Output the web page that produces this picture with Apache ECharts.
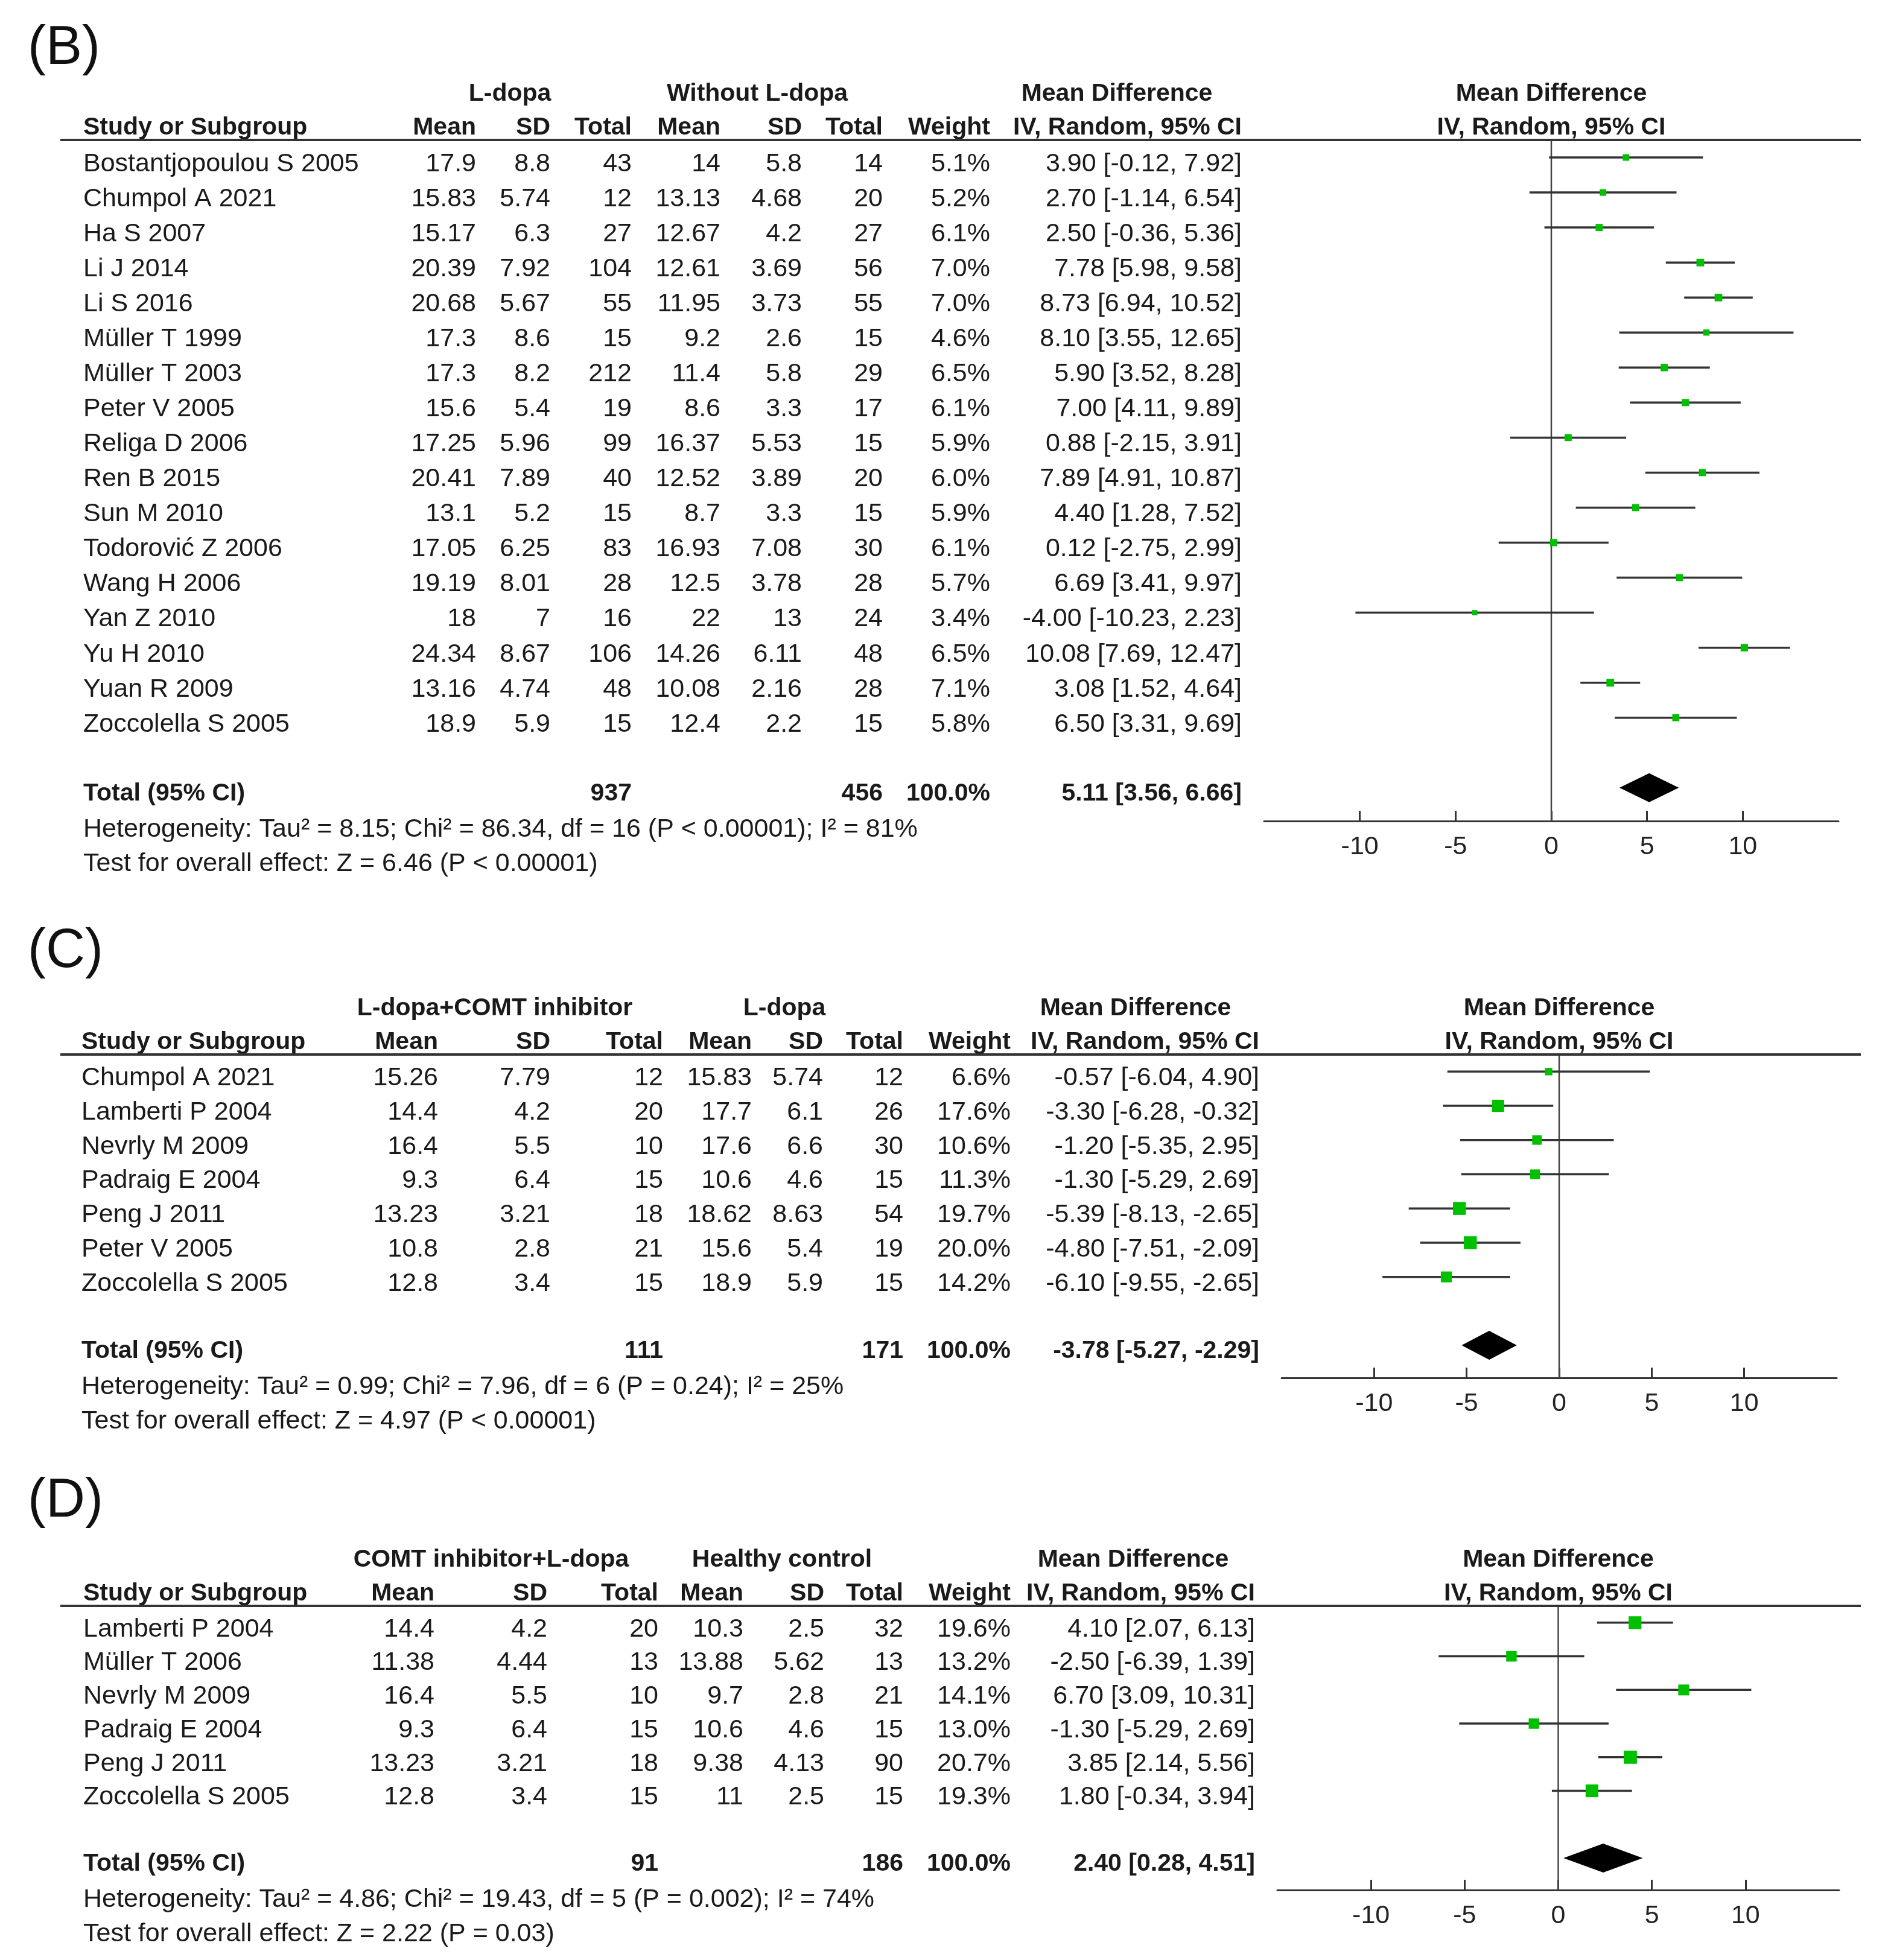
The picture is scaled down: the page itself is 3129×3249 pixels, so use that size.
<!DOCTYPE html>
<html>
<head>
<meta charset="utf-8">
<script src="https://cdn.jsdelivr.net/npm/echarts@6/dist/echarts.min.js"></script>
<style>
html,body{margin:0;padding:0;background:#ffffff;}
#c{width:3129px;height:3249px;}
</style>
</head>
<body>
<div id="c"></div>
<script>
// ---------------- DATA ----------------
// Panel B: L-dopa vs Without L-dopa
const studiesB = ['Bostantjopoulou S 2005','Chumpol A 2021','Ha S 2007','Li J 2014','Li S 2016','Müller T 1999','Müller T 2003','Peter V 2005','Religa D 2006','Ren B 2015','Sun M 2010','Todorović Z 2006','Wang H 2006','Yan Z 2010','Yu H 2010','Yuan R 2009','Zoccolella S 2005'];
const mean1B = [17.9,15.83,15.17,20.39,20.68,17.3,17.3,15.6,17.25,20.41,13.1,17.05,19.19,18,24.34,13.16,18.9];
const sd1B = [8.8,5.74,6.3,7.92,5.67,8.6,8.2,5.4,5.96,7.89,5.2,6.25,8.01,7,8.67,4.74,5.9];
const n1B = [43,12,27,104,55,15,212,19,99,40,15,83,28,16,106,48,15];
const mean2B = [14,13.13,12.67,12.61,11.95,9.2,11.4,8.6,16.37,12.52,8.7,16.93,12.5,22,14.26,10.08,12.4];
const sd2B = [5.8,4.68,4.2,3.69,3.73,2.6,5.8,3.3,5.53,3.89,3.3,7.08,3.78,13,6.11,2.16,2.2];
const n2B = [14,20,27,56,55,15,29,17,15,20,15,30,28,24,48,28,15];
const weightB = [5.1,5.2,6.1,7.0,7.0,4.6,6.5,6.1,5.9,6.0,5.9,6.1,5.7,3.4,6.5,7.1,5.8];
const mdB = [3.90,2.70,2.50,7.78,8.73,8.10,5.90,7.00,0.88,7.89,4.40,0.12,6.69,-4.00,10.08,3.08,6.50];
const lowB = [-0.12,-1.14,-0.36,5.98,6.94,3.55,3.52,4.11,-2.15,4.91,1.28,-2.75,3.41,-10.23,7.69,1.52,3.31];
const highB = [7.92,6.54,5.36,9.58,10.52,12.65,8.28,9.89,3.91,10.87,7.52,2.99,9.97,2.23,12.47,4.64,9.69];
const totalB = [937, 456, 5.11, 3.56, 6.66]; // n1, n2, md, low, high
const groupsB = ['L-dopa', 'Without L-dopa'];
const hetB = 'Heterogeneity: Tau² = 8.15; Chi² = 86.34, df = 16 (P < 0.00001); I² = 81%';
const testB = 'Test for overall effect: Z = 6.46 (P < 0.00001)';

// Panel C: L-dopa+COMT inhibitor vs L-dopa
const studiesC = ['Chumpol A 2021','Lamberti P 2004','Nevrly M 2009','Padraig E 2004','Peng J 2011','Peter V 2005','Zoccolella S 2005'];
const mean1C = [15.26,14.4,16.4,9.3,13.23,10.8,12.8];
const sd1C = [7.79,4.2,5.5,6.4,3.21,2.8,3.4];
const n1C = [12,20,10,15,18,21,15];
const mean2C = [15.83,17.7,17.6,10.6,18.62,15.6,18.9];
const sd2C = [5.74,6.1,6.6,4.6,8.63,5.4,5.9];
const n2C = [12,26,30,15,54,19,15];
const weightC = [6.6,17.6,10.6,11.3,19.7,20.0,14.2];
const mdC = [-0.57,-3.30,-1.20,-1.30,-5.39,-4.80,-6.10];
const lowC = [-6.04,-6.28,-5.35,-5.29,-8.13,-7.51,-9.55];
const highC = [4.90,-0.32,2.95,2.69,-2.65,-2.09,-2.65];
const totalC = [111, 171, -3.78, -5.27, -2.29];
const groupsC = ['L-dopa+COMT inhibitor', 'L-dopa'];
const hetC = 'Heterogeneity: Tau² = 0.99; Chi² = 7.96, df = 6 (P = 0.24); I² = 25%';
const testC = 'Test for overall effect: Z = 4.97 (P < 0.00001)';

// Panel D: COMT inhibitor+L-dopa vs Healthy control
const studiesD = ['Lamberti P 2004','Müller T 2006','Nevrly M 2009','Padraig E 2004','Peng J 2011','Zoccolella S 2005'];
const mean1D = [14.4,11.38,16.4,9.3,13.23,12.8];
const sd1D = [4.2,4.44,5.5,6.4,3.21,3.4];
const n1D = [20,13,10,15,18,15];
const mean2D = [10.3,13.88,9.7,10.6,9.38,11];
const sd2D = [2.5,5.62,2.8,4.6,4.13,2.5];
const n2D = [32,13,21,15,90,15];
const weightD = [19.6,13.2,14.1,13.0,20.7,19.3];
const mdD = [4.10,-2.50,6.70,-1.30,3.85,1.80];
const lowD = [2.07,-6.39,3.09,-5.29,2.14,-0.34];
const highD = [6.13,1.39,10.31,2.69,5.56,3.94];
const totalD = [91, 186, 2.40, 0.28, 4.51];
const groupsD = ['COMT inhibitor+L-dopa', 'Healthy control'];
const hetD = 'Heterogeneity: Tau² = 4.86; Chi² = 19.43, df = 5 (P = 0.002); I² = 74%';
const testD = 'Test for overall effect: Z = 2.22 (P = 0.03)';

const panelLabels = ['(B)', '(C)', '(D)'];
const tickValues = [-10, -5, 0, 5, 10];
const colHeaders = ['Mean', 'SD', 'Total', 'Mean', 'SD', 'Total', 'Weight', 'IV, Random, 95% CI'];

// ---------------- LAYOUT ----------------
const FONT = '"Liberation Sans", Arial, Helvetica, sans-serif';
const TXT = '#1a1a1a';
const layouts = [
  { label: {x: 46, y: 88}, grid: {left: 2095, top: 232, width: 952, height: 1129},
    cols: {name: 138, m1: 789, sd1: 912, t1: 1047, m2: 1194, sd2: 1329, t2: 1463, w: 1641, ci: 2058},
    g1: 845, g2: 1255, md: 1851 },
  { label: {x: 46, y: 1585}, grid: {left: 2124, top: 1748, width: 920, height: 536},
    cols: {name: 135, m1: 726, sd1: 912, t1: 1099, m2: 1246, sd2: 1364, t2: 1497, w: 1675, ci: 2087},
    g1: 820, g2: 1300, md: 1882 },
  { label: {x: 46, y: 2496}, grid: {left: 2117, top: 2662, width: 931, height: 471},
    cols: {name: 138, m1: 720, sd1: 907, t1: 1091, m2: 1232, sd2: 1366, t2: 1497, w: 1675, ci: 2080},
    g1: 814, g2: 1296, md: 1878 }
];

const panels = [
  {studies: studiesB, m1: mean1B, s1: sd1B, n1: n1B, m2: mean2B, s2: sd2B, n2: n2B, w: weightB, md: mdB, lo: lowB, hi: highB, tot: totalB, groups: groupsB, het: hetB, test: testB},
  {studies: studiesC, m1: mean1C, s1: sd1C, n1: n1C, m2: mean2C, s2: sd2C, n2: n2C, w: weightC, md: mdC, lo: lowC, hi: highC, tot: totalC, groups: groupsC, het: hetC, test: testC},
  {studies: studiesD, m1: mean1D, s1: sd1D, n1: n1D, m2: mean2D, s2: sd2D, n2: n2D, w: weightD, md: mdD, lo: lowD, hi: highD, tot: totalD, groups: groupsD, het: hetD, test: testD}
];

function ciText(md, lo, hi) { return md.toFixed(2) + ' [' + lo.toFixed(2) + ', ' + hi.toFixed(2) + ']'; }

// build text lines for each panel's table
panels.forEach(function (p, k) {
  const L = layouts[k], c = L.cols, n = p.studies.length;
  const lines = [];
  lines.push({row: -0.5, dy: -76, cells: [
    {t: p.groups[0], x: L.g1, a: 'center', b: true},
    {t: p.groups[1], x: L.g2, a: 'center', b: true},
    {t: 'Mean Difference', x: L.md, a: 'center', b: true},
    {t: 'Mean Difference', x: 'zero', a: 'center', b: true}
  ]});
  const hx = [c.m1, c.sd1, c.t1, c.m2, c.sd2, c.t2, c.w, c.ci];
  const h2 = [{t: 'Study or Subgroup', x: c.name, a: 'left', b: true}];
  colHeaders.forEach(function (h, j) { h2.push({t: h, x: hx[j], a: 'right', b: true}); });
  h2.push({t: 'IV, Random, 95% CI', x: 'zero', a: 'center', b: true});
  lines.push({row: -0.5, dy: -20, cells: h2});
  lines.push({row: -0.5, dy: 0, rule: true, cells: []});
  for (let i = 0; i < n; i++) {
    lines.push({row: i, dy: 11, cells: [
      {t: p.studies[i], x: c.name, a: 'left'},
      {t: String(p.m1[i]), x: c.m1, a: 'right'},
      {t: String(p.s1[i]), x: c.sd1, a: 'right'},
      {t: String(p.n1[i]), x: c.t1, a: 'right'},
      {t: String(p.m2[i]), x: c.m2, a: 'right'},
      {t: String(p.s2[i]), x: c.sd2, a: 'right'},
      {t: String(p.n2[i]), x: c.t2, a: 'right'},
      {t: p.w[i].toFixed(1) + '%', x: c.w, a: 'right'},
      {t: ciText(p.md[i], p.lo[i], p.hi[i]), x: c.ci, a: 'right'}
    ]});
  }
  lines.push({row: n + 1, dy: 10, cells: [
    {t: 'Total (95% CI)', x: c.name, a: 'left', b: true},
    {t: String(p.tot[0]), x: c.t1, a: 'right', b: true},
    {t: String(p.tot[1]), x: c.t2, a: 'right', b: true},
    {t: '100.0%', x: c.w, a: 'right', b: true},
    {t: ciText(p.tot[2], p.tot[3], p.tot[4]), x: c.ci, a: 'right', b: true}
  ]});
  lines.push({row: n + 1, dy: 69, cells: [{t: p.het, x: c.name, a: 'left'}]});
  lines.push({row: n + 1, dy: 126, cells: [{t: p.test, x: c.name, a: 'left'}]});
  p.lines = lines;
});

// ---------------- RENDERERS ----------------
function tableRender(k) {
  return function (params, api) {
    const line = panels[k].lines[params.dataIndex];
    const pt = api.coord([0, api.value(1)]);
    const y = pt[1] + line.dy;
    const children = [];
    if (line.rule) {
      children.push({type: 'line', shape: {x1: 100, y1: y, x2: 3084, y2: y},
        style: {stroke: '#333333', lineWidth: 4}});
    }
    line.cells.forEach(function (cell) {
      children.push({type: 'text', style: {
        text: cell.t, x: cell.x === 'zero' ? pt[0] : cell.x, y: y,
        align: cell.a, verticalAlign: 'middle',
        fontSize: cell.b ? 41 : 43, fontWeight: cell.b ? 'bold' : 'normal',
        fontFamily: FONT, fill: TXT
      }});
    });
    return {type: 'group', children: children};
  };
}

function ciRender(params, api) {
  const row = api.value(3);
  const a = api.coord([api.value(0), row]);
  const b = api.coord([api.value(1), row]);
  const m = api.coord([api.value(2), row]);
  const s = 4.8 * Math.sqrt(api.value(4));
  return {type: 'group', children: [
    {type: 'line', shape: {x1: a[0], y1: a[1], x2: b[0], y2: b[1]}, style: {stroke: '#333333', lineWidth: 3.5}},
    {type: 'rect', shape: {x: m[0] - s / 2, y: m[1] - s / 2, width: s, height: s}, style: {fill: '#00c000'}}
  ]};
}

function diamondRender(params, api) {
  const row = api.value(3);
  const a = api.coord([api.value(0), row]);
  const b = api.coord([api.value(1), row]);
  const m = api.coord([api.value(2), row]);
  const h = 24;
  return {type: 'polygon', shape: {points: [[a[0], a[1]], [m[0], m[1] - h], [b[0], b[1]], [m[0], m[1] + h]]},
    style: {fill: '#000000'}};
}

function zeroRender(params, api) {
  const t = api.coord([api.value(0), api.value(1)]);
  const b = api.coord([api.value(0), api.value(2)]);
  return {type: 'line', shape: {x1: t[0], y1: t[1], x2: b[0], y2: b[1]}, style: {stroke: '#444444', lineWidth: 2.5}};
}

// ---------------- OPTION ----------------
const grids = [], xAxes = [], yAxes = [], series = [], graphics = [];
panels.forEach(function (p, k) {
  const L = layouts[k], n = p.studies.length;
  const yMax = n + 1.95;
  grids.push({left: L.grid.left, top: L.grid.top, width: L.grid.width, height: L.grid.height});
  xAxes.push({
    gridIndex: k, type: 'value', min: -15, max: 15, interval: 5, position: 'bottom',
    axisLine: {show: true, onZero: false, lineStyle: {color: '#333333', width: 3}},
    axisTick: {show: true, inside: true, length: 17, customValues: tickValues, lineStyle: {color: '#333333', width: 3}},
    axisLabel: {show: true, customValues: tickValues, fontSize: 43, fontFamily: FONT, color: '#222222', margin: 22},
    splitLine: {show: false}
  });
  yAxes.push({gridIndex: k, type: 'value', inverse: true, min: -0.5, max: yMax, show: false, splitLine: {show: false}});
  series.push({type: 'custom', name: 'zero' + k, xAxisIndex: k, yAxisIndex: k, clip: false, z: 1,
    renderItem: zeroRender, data: [[0, -0.5, yMax]], encode: {x: 0, y: [1, 2]}, silent: true});
  series.push({type: 'custom', name: 'ci' + k, xAxisIndex: k, yAxisIndex: k, clip: false, z: 3,
    renderItem: ciRender,
    data: p.studies.map(function (s, i) { return [p.lo[i], p.hi[i], p.md[i], i, p.w[i]]; }),
    encode: {x: [0, 1, 2], y: 3}, silent: true});
  series.push({type: 'custom', name: 'total' + k, xAxisIndex: k, yAxisIndex: k, clip: false, z: 3,
    renderItem: diamondRender, data: [[p.tot[3], p.tot[4], p.tot[2], n + 1]],
    encode: {x: [0, 1, 2], y: 3}, silent: true});
  series.push({type: 'custom', name: 'table' + k, xAxisIndex: k, yAxisIndex: k, clip: false, z: 4,
    renderItem: tableRender(k), data: p.lines.map(function (l) { return [0, l.row]; }),
    encode: {x: 0, y: 1}, silent: true});
  graphics.push({type: 'text', left: L.label.x, top: L.label.y - 52,
    style: {text: panelLabels[k], fontSize: 90, fontFamily: FONT, fill: '#111111'}});
});

const chart = echarts.init(document.getElementById('c'), null, {renderer: 'canvas'});
chart.setOption({
  backgroundColor: '#ffffff',
  animation: false,
  grid: grids, xAxis: xAxes, yAxis: yAxes, series: series, graphic: graphics
});
</script>
</body>
</html>
